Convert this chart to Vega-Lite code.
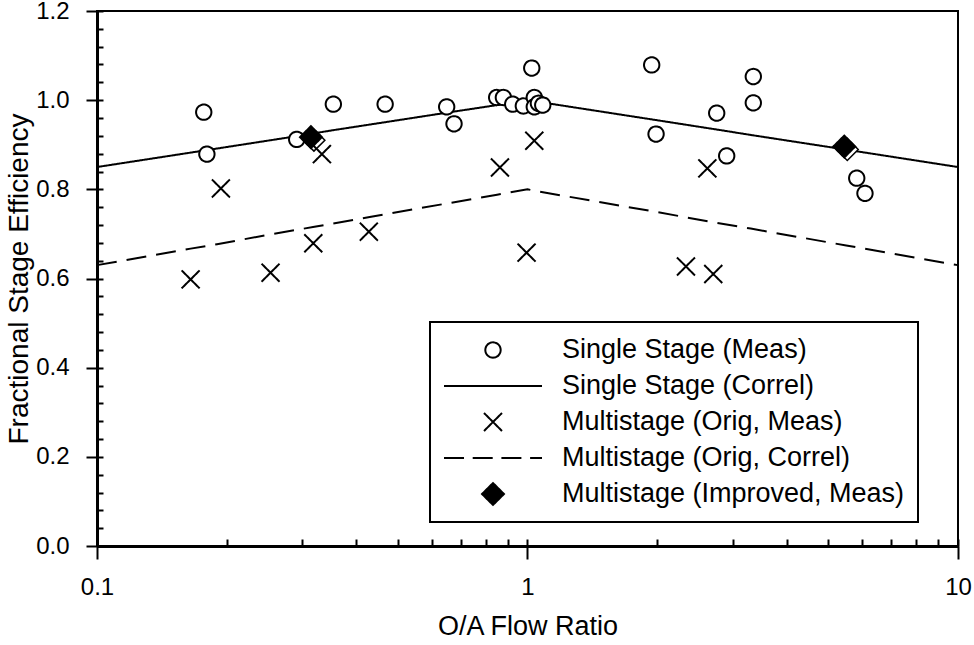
{
  "$schema": "https://vega.github.io/schema/vega-lite/v6.json",
  "width": 861,
  "height": 535,
  "autosize": {"type": "none"},
  "padding": {"left": 97, "top": 11, "right": 16, "bottom": 99},
  "background": "white",
  "config": {
    "view": {"stroke": "black", "strokeWidth": 2},
    "font": "Liberation Sans",
    "axis": {"grid": false, "labelColor": "black", "titleColor": "black", "tickColor": "black", "domainColor": "black", "labelFont": "Liberation Sans", "titleFont": "Liberation Sans", "titleFontWeight": "normal"},
    "legend": {
      "orient": "none",
      "legendX": 333,
      "legendY": 311,
      "symbolStrokeWidth": 2,
      "symbolStrokeColor": "black",
      "labelFontSize": 27,
      "labelFont": "Liberation Sans",
      "labelColor": "black",
      "labelOffset": 19,
      "labelLimit": 600,
      "clipHeight": 30,
      "rowPadding": 6,
      "padding": 13,
      "strokeColor": "black",
      "strokeWidth": 2,
      "fillColor": "white"
    }
  },
  "datasets": {
    "lines": [
      {"series": "Single Stage (Correl)", "x": 0.1, "y": 0.85},
      {"series": "Single Stage (Correl)", "x": 0.18, "y": 0.888},
      {"series": "Single Stage (Correl)", "x": 0.29, "y": 0.919},
      {"series": "Single Stage (Correl)", "x": 0.35, "y": 0.932},
      {"series": "Single Stage (Correl)", "x": 0.47, "y": 0.951},
      {"series": "Single Stage (Correl)", "x": 0.65, "y": 0.972},
      {"series": "Single Stage (Correl)", "x": 0.85, "y": 0.989},
      {"series": "Single Stage (Correl)", "x": 1.0, "y": 1.0},
      {"series": "Single Stage (Correl)", "x": 1.08, "y": 0.995},
      {"series": "Single Stage (Correl)", "x": 2.0, "y": 0.955},
      {"series": "Single Stage (Correl)", "x": 2.8, "y": 0.933},
      {"series": "Single Stage (Correl)", "x": 3.3, "y": 0.922},
      {"series": "Single Stage (Correl)", "x": 5.5, "y": 0.889},
      {"series": "Single Stage (Correl)", "x": 10, "y": 0.85},
      {"series": "Multistage (Orig, Correl)", "x": 0.1, "y": 0.63},
      {"series": "Multistage (Orig, Correl)", "x": 0.165, "y": 0.667},
      {"series": "Multistage (Orig, Correl)", "x": 0.19, "y": 0.677},
      {"series": "Multistage (Orig, Correl)", "x": 0.25, "y": 0.698},
      {"series": "Multistage (Orig, Correl)", "x": 0.32, "y": 0.716},
      {"series": "Multistage (Orig, Correl)", "x": 0.43, "y": 0.738},
      {"series": "Multistage (Orig, Correl)", "x": 0.85, "y": 0.788},
      {"series": "Multistage (Orig, Correl)", "x": 1.0, "y": 0.8},
      {"series": "Multistage (Orig, Correl)", "x": 1.05, "y": 0.796},
      {"series": "Multistage (Orig, Correl)", "x": 2.0, "y": 0.749},
      {"series": "Multistage (Orig, Correl)", "x": 2.6, "y": 0.729},
      {"series": "Multistage (Orig, Correl)", "x": 3.3, "y": 0.712},
      {"series": "Multistage (Orig, Correl)", "x": 5.5, "y": 0.674},
      {"series": "Multistage (Orig, Correl)", "x": 10, "y": 0.63}
    ],
    "points": [
      {"series": "Single Stage (Meas)", "x": 0.177, "y": 0.973},
      {"series": "Single Stage (Meas)", "x": 0.18, "y": 0.879},
      {"series": "Single Stage (Meas)", "x": 0.291, "y": 0.912},
      {"series": "Single Stage (Meas)", "x": 0.354, "y": 0.991},
      {"series": "Single Stage (Meas)", "x": 0.467, "y": 0.991},
      {"series": "Single Stage (Meas)", "x": 0.649, "y": 0.985},
      {"series": "Single Stage (Meas)", "x": 0.675, "y": 0.947},
      {"series": "Single Stage (Meas)", "x": 0.848, "y": 1.006},
      {"series": "Single Stage (Meas)", "x": 0.879, "y": 1.006},
      {"series": "Single Stage (Meas)", "x": 0.924, "y": 0.991},
      {"series": "Single Stage (Meas)", "x": 0.978, "y": 0.987},
      {"series": "Single Stage (Meas)", "x": 1.023, "y": 1.072},
      {"series": "Single Stage (Meas)", "x": 1.037, "y": 1.006},
      {"series": "Single Stage (Meas)", "x": 1.037, "y": 0.985},
      {"series": "Single Stage (Meas)", "x": 1.06, "y": 0.993},
      {"series": "Single Stage (Meas)", "x": 1.085, "y": 0.989},
      {"series": "Single Stage (Meas)", "x": 1.943, "y": 1.079},
      {"series": "Single Stage (Meas)", "x": 1.989, "y": 0.924},
      {"series": "Single Stage (Meas)", "x": 2.751, "y": 0.971},
      {"series": "Single Stage (Meas)", "x": 2.902, "y": 0.875},
      {"series": "Single Stage (Meas)", "x": 3.346, "y": 1.053},
      {"series": "Single Stage (Meas)", "x": 3.346, "y": 0.994},
      {"series": "Single Stage (Meas)", "x": 5.818, "y": 0.825},
      {"series": "Single Stage (Meas)", "x": 6.08, "y": 0.791},
      {"series": "Multistage (Orig, Meas)", "x": 0.165, "y": 0.598},
      {"series": "Multistage (Orig, Meas)", "x": 0.194, "y": 0.802},
      {"series": "Multistage (Orig, Meas)", "x": 0.253, "y": 0.613},
      {"series": "Multistage (Orig, Meas)", "x": 0.318, "y": 0.679},
      {"series": "Multistage (Orig, Meas)", "x": 0.333, "y": 0.879},
      {"series": "Multistage (Orig, Meas)", "x": 0.428, "y": 0.705},
      {"series": "Multistage (Orig, Meas)", "x": 0.863, "y": 0.849},
      {"series": "Multistage (Orig, Meas)", "x": 0.995, "y": 0.658},
      {"series": "Multistage (Orig, Meas)", "x": 1.037, "y": 0.909},
      {"series": "Multistage (Orig, Meas)", "x": 2.334, "y": 0.627},
      {"series": "Multistage (Orig, Meas)", "x": 2.617, "y": 0.847},
      {"series": "Multistage (Orig, Meas)", "x": 2.701, "y": 0.61},
      {"series": "Multistage (Improved, Meas)", "x": 0.314, "y": 0.917},
      {"series": "Multistage (Improved, Meas)", "x": 5.443, "y": 0.896}
    ]
  },
  "layer": [
    {
      "data": {"name": "lines"},
      "mark": {"type": "line", "color": "black", "strokeWidth": 2},
      "encoding": {
        "x": {
          "field": "x", "type": "quantitative",
          "scale": {"type": "log", "domain": [0.1, 10], "nice": false},
          "axis": {
            "orient": "bottom",
            "values": [0.1, 0.2, 0.3, 0.4, 0.5, 0.6, 0.7, 0.8, 0.9, 1, 2, 3, 4, 5, 6, 7, 8, 9, 10],
            "labelExpr": "datum.value == 0.1 ? '0.1' : datum.value == 1 ? '1' : datum.value == 10 ? '10' : ''",
            "tickSize": {"condition": {"test": "indexof([0.1, 1, 10], datum.value) >= 0", "value": 13}, "value": -7},
            "tickWidth": 2,
            "domainWidth": 3,
            "labelFontSize": 24,
            "labelPadding": 16,
            "labelOverlap": false,
            "labelFlush": false,
            "title": "O/A Flow Ratio",
            "titleFontSize": 27,
            "titlePadding": 14
          }
        },
        "y": {
          "field": "y", "type": "quantitative",
          "scale": {"domain": [0, 1.2], "nice": false, "zero": false},
          "axis": {
            "orient": "left",
            "values": [0, 0.04, 0.08, 0.12, 0.16, 0.2, 0.24, 0.28, 0.32, 0.36, 0.4, 0.44, 0.48, 0.52, 0.56, 0.6, 0.64, 0.68, 0.72, 0.76, 0.8, 0.84, 0.88, 0.92, 0.96, 1, 1.04, 1.08, 1.12, 1.16, 1.2],
            "labelExpr": "indexof([0, 0.2, 0.4, 0.6, 0.8, 1, 1.2], datum.value) >= 0 ? format(datum.value, '.1f') : ''",
            "tickSize": {"condition": {"test": "indexof([0, 0.2, 0.4, 0.6, 0.8, 1, 1.2], datum.value) >= 0", "value": 11}, "value": -6},
            "tickWidth": 2,
            "domainWidth": 3,
            "labelFontSize": 24,
            "labelPadding": 17,
            "labelOverlap": false,
            "labelFlush": false,
            "title": "Fractional Stage Efficiency",
            "titleFontSize": 28,
            "titlePadding": 2
          }
        },
        "detail": {"field": "series", "type": "nominal"},
        "strokeDash": {
          "condition": {"test": "datum.series === 'Multistage (Orig, Correl)'", "value": [20, 10]},
          "value": [1, 0]
        }
      }
    },
    {
      "data": {"name": "points"},
      "transform": [{"filter": "datum.series === 'Multistage (Improved, Meas)'"}],
      "mark": {"type": "point", "shape": "diamond", "size": 480, "filled": true, "fill": "white", "stroke": "black", "strokeWidth": 1.5, "opacity": 1, "xOffset": 3, "yOffset": 3},
      "encoding": {
        "x": {"field": "x", "type": "quantitative", "axis": null},
        "y": {"field": "y", "type": "quantitative", "axis": null}
      }
    },
    {
      "data": {"name": "points"},
      "mark": {"type": "point", "strokeWidth": 2, "opacity": 1, "fillOpacity": 1, "strokeOpacity": 1},
      "encoding": {
        "x": {
          "field": "x", "type": "quantitative",
          "axis": {"orient": "bottom", "values": [0.1, 1, 10], "tickSize": -7, "tickWidth": 2, "labels": false, "domain": false, "title": null}
        },
        "y": {
          "field": "y", "type": "quantitative",
          "axis": {"orient": "left", "values": [0, 0.2, 0.4, 0.6, 0.8, 1, 1.2], "tickSize": -6, "tickWidth": 2, "labels": false, "domain": false, "title": null}
        },
        "fill": {
          "field": "series", "type": "nominal",
          "scale": {
            "domain": ["Single Stage (Meas)", "Single Stage (Correl)", "Multistage (Orig, Meas)", "Multistage (Orig, Correl)", "Multistage (Improved, Meas)"],
            "range": ["white", "white", "transparent", "white", "black"]
          },
          "legend": {"title": null}
        },
        "stroke": {
          "field": "series", "type": "nominal",
          "scale": {
            "domain": ["Single Stage (Meas)", "Single Stage (Correl)", "Multistage (Orig, Meas)", "Multistage (Orig, Correl)", "Multistage (Improved, Meas)"],
            "range": ["black", "black", "black", "black", "black"]
          },
          "legend": {"title": null}
        },
        "shape": {
          "field": "series", "type": "nominal",
          "scale": {
            "domain": ["Single Stage (Meas)", "Single Stage (Correl)", "Multistage (Orig, Meas)", "Multistage (Orig, Correl)", "Multistage (Improved, Meas)"],
            "range": ["circle", "M-1,0H1", "M-1,-1L1,1M1,-1L-1,1", "M-1,0H1", "diamond"]
          },
          "legend": {"title": null}
        },
        "size": {
          "field": "series", "type": "nominal",
          "scale": {
            "type": "ordinal",
            "domain": ["Single Stage (Meas)", "Single Stage (Correl)", "Multistage (Orig, Meas)", "Multistage (Orig, Correl)", "Multistage (Improved, Meas)"],
            "range": [235, 9604, 324, 9604, 480]
          },
          "legend": {"title": null}
        },
        "strokeDash": {
          "field": "series", "type": "nominal",
          "scale": {
            "domain": ["Single Stage (Meas)", "Single Stage (Correl)", "Multistage (Orig, Meas)", "Multistage (Orig, Correl)", "Multistage (Improved, Meas)"],
            "range": [[1, 0], [1, 0], [1, 0], [20, 8.7], [1, 0]]
          },
          "legend": {"title": null}
        }
      }
    }
  ],
  "resolve": {"axis": {"x": "independent", "y": "independent"}}
}
